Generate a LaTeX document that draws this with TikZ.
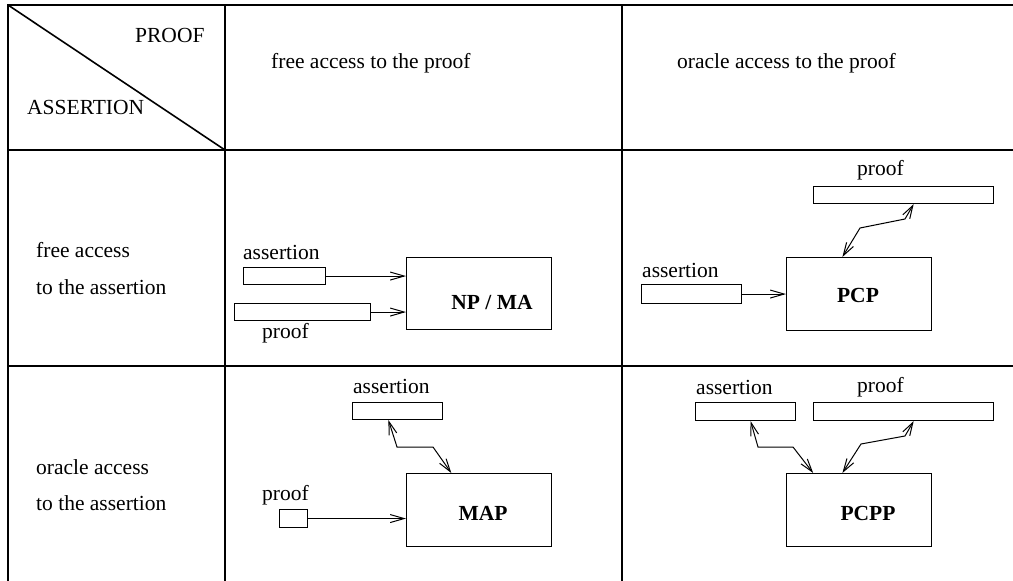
\documentclass[tikz,border=0pt]{standalone}
\usepackage{fontspec}
\setmainfont{Liberation Serif}
\usetikzlibrary{arrows.meta,calc}
\tikzset{
  grid/.style={line width=2pt, line cap=rect},
  txt/.style={font=\fontsize{21.5}{26}\selectfont, inner sep=0pt, anchor=west},
  lbl/.style={font=\fontsize{21.5}{26}\selectfont\bfseries, inner sep=0pt},
  bar/.style={draw, line width=1.1pt, inner sep=0pt, anchor=north west},
  arr/.style={line width=1pt, -{Straight Barb[length=14pt,width=8pt]}},
  darr/.style={line width=1pt, {Straight Barb[length=13pt,width=8pt]}-{Straight Barb[length=13pt,width=8pt]}},
}
\begin{document}
\begin{tikzpicture}[x=1pt,y=-1pt]
\useasboundingbox (0,0) rectangle (1013,581);
% table
\coordinate (tl) at (8,5);
\coordinate (c1t) at (225,5);
\coordinate (c2t) at (622,5);
\coordinate (tr) at (1020,5);
\coordinate (r1l) at (8,150);
\coordinate (r1c) at (225,150);
\coordinate (r1r) at (1020,150);
\coordinate (r2l) at (8,366);
\coordinate (r2r) at (1020,366);
\coordinate (bl) at (8,590);
\coordinate (c1b) at (225,590);
\coordinate (c2b) at (622,590);
\draw[grid] (tl) -- (tr);
\draw[grid] (r1l) -- (r1r);
\draw[grid] (r2l) -- (r2r);
\draw[grid] (tl) -- (bl);
\draw[grid] (c1t) -- (c1b);
\draw[grid] (c2t) -- (c2b);
\draw[line width=1.6pt] (tl) -- (r1c);
% header texts
\node[txt] (hproof) at (135,35) {PROOF};
\node[txt] (hassert) at (27,107) {ASSERTION};
\node[txt] (hfp) at (271,63) {free access to the proof};
\node[txt] (hop) at (677,63) {oracle access to the proof};
\node[txt] (hfa1) at (36,250) {free access};
\node[txt] (hfa2) at (36,287) {to the assertion};
\node[txt] (hoa1) at (36,467) {oracle access};
\node[txt] (hoa2) at (36,503) {to the assertion};
% cell 1,1
\node[txt] (la1) at (243,252) {assertion};
\node[bar, minimum width=82pt, minimum height=17pt] (a1) at (243,267) {};
\node[bar, minimum width=136pt, minimum height=17pt] (p1) at (234,303) {};
\node[txt] (lp1) at (262,333) {proof};
\node[bar, minimum width=145pt, minimum height=72pt] (npma) at (406,257) {};
\node[lbl] (tnpma) at (492,303) {NP / MA};
\draw[arr] (a1.east) -- (npma.west |- a1.east);
\draw[arr] (p1.east) -- (npma.west |- p1.east);
% cell 1,2
\node[txt] (lp2) at (857,170) {proof};
\node[bar, minimum width=180pt, minimum height=17pt] (p2) at (813,186) {};
\node[txt] (la2) at (642,270) {assertion};
\node[bar, minimum width=100pt, minimum height=19pt] (a2) at (641,284) {};
\node[bar, minimum width=145pt, minimum height=73pt] (pcp) at (786,257) {};
\node[lbl] (tpcp) at (858,295) {PCP};
\draw[arr] (a2.east) -- (pcp.west |- a2.east);
\coordinate (z1a) at (905,219);
\coordinate (z1b) at (860,228);
\draw[darr] ($(p2.south west)!0.556!(p2.south east)$) -- (z1a) -- (z1b) -- ($(pcp.north west)!0.386!(pcp.north east)$);
% cell 2,1
\node[txt] (la3) at (353,386) {assertion};
\node[bar, minimum width=90pt, minimum height=17pt] (a3) at (352,402) {};
\node[bar, minimum width=145pt, minimum height=73pt] (map) at (406,473) {};
\node[lbl] (tmap) at (483,513) {MAP};
\node[txt] (lp3) at (262,495) {proof};
\node[bar, minimum width=28pt, minimum height=18pt] (p3) at (279,509) {};
\draw[arr] (p3.east) -- (map.west |- p3.east);
\coordinate (z2a) at (397,447);
\coordinate (z2b) at (433,447);
\draw[darr] ($(a3.south west)!0.4!(a3.south east)$) -- (z2a) -- (z2b) -- ($(map.north west)!0.31!(map.north east)$);
% cell 2,2
\node[txt] (la4) at (696,387) {assertion};
\node[bar, minimum width=100pt, minimum height=18pt] (a4) at (695,402) {};
\node[txt] (lp4) at (857,387) {proof};
\node[bar, minimum width=180pt, minimum height=18pt] (p4) at (813,402) {};
\node[bar, minimum width=145pt, minimum height=73pt] (pcpp) at (786,473) {};
\node[lbl] (tpcpp) at (868,513) {PCPP};
\coordinate (z3a) at (758,447);
\coordinate (z3b) at (793,447);
\draw[darr] ($(a4.south west)!0.55!(a4.south east)$) -- (z3a) -- (z3b) -- ($(pcpp.north west)!0.186!(pcpp.north east)$);
\coordinate (z4a) at (861,444);
\coordinate (z4b) at (905,436);
\draw[darr] ($(pcpp.north west)!0.386!(pcpp.north east)$) -- (z4a) -- (z4b) -- ($(p4.south west)!0.556!(p4.south east)$);
\end{tikzpicture}
\end{document}
